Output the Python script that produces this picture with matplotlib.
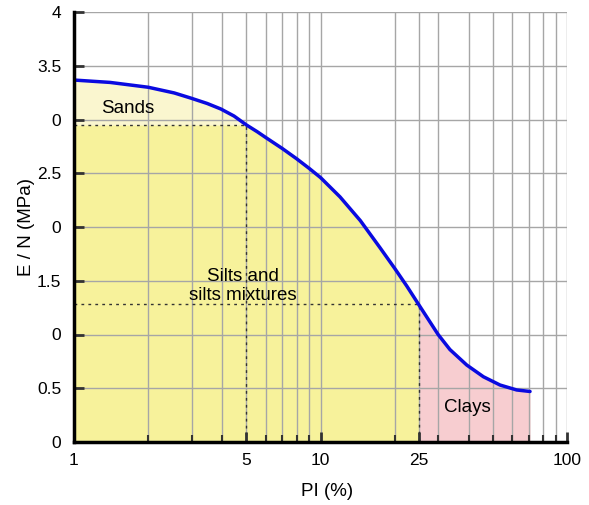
import matplotlib
matplotlib.use("Agg")
import matplotlib.pyplot as plt
import numpy as np

plt.rcParams['font.family'] = ['Liberation Sans', 'DejaVu Sans']

# curve
pi = np.array([1, 1.4, 2, 2.55, 2.97, 3.47, 3.94, 4.46, 5, 5.54, 6, 7, 8, 9,
               10, 12, 14.5, 17.4, 20, 22.4, 25, 30, 33.5, 39.2, 45.8, 53.5,
               62.5, 70.8])
en = np.array([3.367, 3.345, 3.30, 3.247, 3.20, 3.149, 3.098, 3.032, 2.95,
               2.886, 2.832, 2.73, 2.635, 2.545, 2.46, 2.28, 2.06, 1.81, 1.615,
               1.45, 1.28, 1.0, 0.86, 0.716, 0.607, 0.53, 0.484, 0.47])

sand_limit = (5, 2.95)
clay_limit = (25, 1.28)

x_ticks = [1, 5, 10, 25, 100]
x_minor = [2, 3, 4, 6, 7, 8, 9, 20, 30, 40, 50, 60, 70, 80, 90]
y_ticks = [0, 0.5, 1, 1.5, 2, 2.5, 3, 3.5, 4]
y_labels = ['0', '0.5', '0', '1.5', '0', '2.5', '0', '3.5', '4']

fig = plt.figure(figsize=(5.89, 5.05), dpi=100)
ax = fig.add_axes([74/589, 63/505, 493/589, 430/505])

# zones
m = pi <= sand_limit[0]
ax.fill_between(pi[m], sand_limit[1], en[m], color='#faf6cf', lw=0)
m = pi <= clay_limit[0]
ax.fill_between(pi[m], 0, np.minimum(en[m], sand_limit[1]), color='#f7f29b', lw=0)
m = pi >= clay_limit[0]
ax.fill_between(pi[m], 0, en[m], color='#f7cdd0', lw=0)

ax.set_xscale('log')
ax.set_xlim(1, 100)
ax.set_ylim(0, 4)

ax.set_xticks(x_ticks)
ax.set_xticklabels([str(t) for t in x_ticks])
ax.set_xticks(x_minor, minor=True)
ax.set_yticks(y_ticks)
ax.set_yticklabels(y_labels)

ax.grid(True, which='both', color='#a6a6a6', lw=1)
for l in ax.get_xgridlines() + ax.get_ygridlines():
    l.set_zorder(0.5)

ax.tick_params(which='both', direction='in', colors='#333333', labelcolor='black',
               labelsize=12.5)
ax.tick_params(axis='x', which='major', length=7, width=2, pad=8)
ax.tick_params(axis='x', which='minor', length=5, width=1.5)
ax.tick_params(axis='y', length=7, width=2, pad=9)

for s in ['top', 'right']:
    ax.spines[s].set_visible(False)
for s in ['left', 'bottom']:
    ax.spines[s].set_linewidth(2.5)
    ax.spines[s].set_color('black')
    ax.spines[s].set_zorder(5)

# dotted boundaries
ax.plot([1, sand_limit[0], sand_limit[0]], [sand_limit[1], sand_limit[1], 0],
        color='#333333', ls=(0, (2, 3)), lw=1, zorder=2)
ax.plot([1, clay_limit[0], clay_limit[0]], [clay_limit[1], clay_limit[1], 0],
        color='#333333', ls=(0, (2, 3)), lw=1, zorder=2)

ax.plot(pi, en, color='#0a0ae0', lw=2.5, zorder=4, solid_capstyle='round',
        solid_joinstyle='round')

ax.text(1.65, 3.10, 'Sands', fontsize=13.5, ha='center', va='center')
ax.text(4.85, 1.45, 'Silts and\nsilts mixtures', fontsize=13.5, ha='center',
        va='center', linespacing=1.2)
ax.text(39.5, 0.32, 'Clays', fontsize=13.5, ha='center', va='center')

ax.set_xlabel('PI (%)', fontsize=13.5)
ax.set_ylabel('E / N (MPa)', fontsize=13.5)
ax.xaxis.set_label_coords(0.513, -0.095)
ax.yaxis.set_label_coords(-0.08, 0.5)

fig.savefig('out.png', dpi=100)
